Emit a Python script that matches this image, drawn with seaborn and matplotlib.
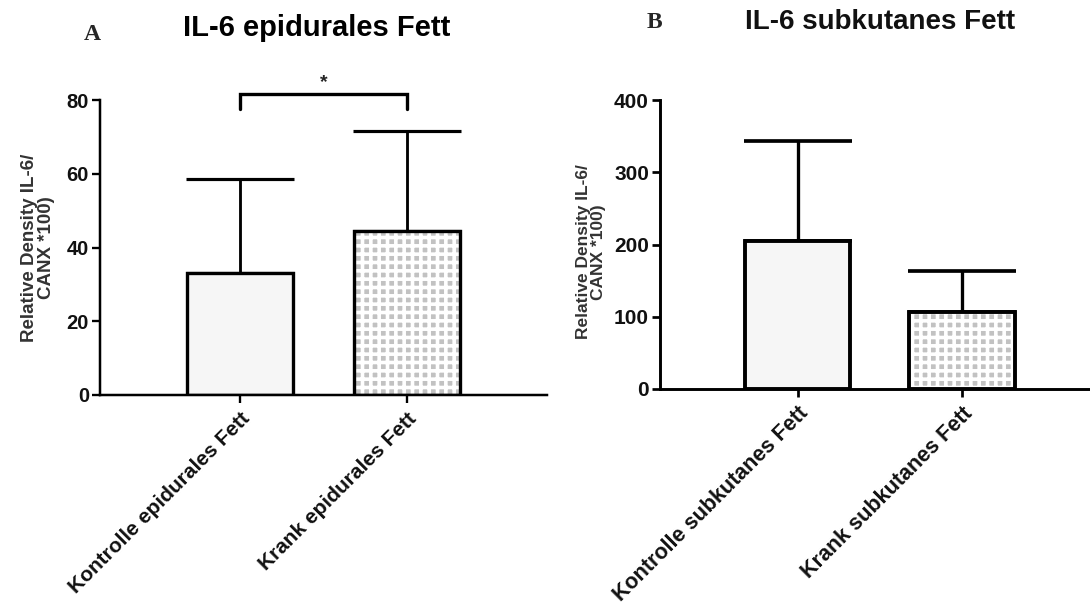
import matplotlib
matplotlib.use("Agg")
import matplotlib.pyplot as plt
import seaborn as sns
import pandas as pd
import numpy as np

sns.set_theme(style="ticks")
plt.rcParams['font.family'] = ['Liberation Sans', 'DejaVu Sans']
plt.rcParams['font.weight'] = 'bold'
plt.rcParams['hatch.linewidth'] = 2.6

# ---- data ----
cats_a = ["Kontrolle epidurales Fett", "Krank epidurales Fett"]
mean_a = [33, 44.5]
sd_a = [25.5, 27]
cats_b = ["Kontrolle subkutanes Fett", "Krank subkutanes Fett"]
mean_b = [205, 106]
sd_b = [138, 58]
title_a = "IL-6 epidurales Fett"
title_b = "IL-6 subkutanes Fett"
ylabel = "Relative Density IL-6/\nCANX *100)"
yticks_a = [0, 20, 40, 60, 80]
yticks_b = [0, 100, 200, 300, 400]
sig_label = "*"

fig = plt.figure(figsize=(10.9, 6.06), dpi=100)
axA = fig.add_axes([100/1090, 1-395/606, 447/1090, 295/606])
axB = fig.add_axes([660/1090, 1-389/606, 430/1090, 289/606])

def panel(ax, cats, means, sds, yticks, lw, tick_fs, xl_fs, yl_fs, ylab_x, ylab_y):
    df = pd.DataFrame({"g": cats, "v": means})
    # fill layer
    sns.barplot(data=df, x="g", y="v", hue="g",
                palette={cats[0]: "#f6f6f6", cats[1]: "#c2c2c2"},
                width=0.64, linewidth=0, edgecolor="white", legend=False,
                ax=ax, zorder=1)
    ax.patches[1].set_hatch("++")
    # outline layer
    sns.barplot(data=df, x="g", y="v", fill=False, color="black",
                width=0.64, linewidth=lw, edgecolor="black", ax=ax, zorder=2,
                err_kws={"linewidth": 0})
    xs = np.arange(len(cats))
    ax.errorbar(xs, means, yerr=[np.zeros(len(sds)), sds], fmt="none",
                ecolor="black", elinewidth=lw*0.85, capsize=39,
                capthick=lw*0.95, zorder=0)
    ax.set_ylim(yticks[0], yticks[-1])
    ax.set_yticks(yticks)
    ax.set_yticklabels([str(t) for t in yticks], fontsize=tick_fs,
                       fontweight="bold", color="#111111")
    ax.set_xticks(xs)
    ax.set_xticklabels(cats, rotation=45, ha="right", rotation_mode="anchor",
                       fontsize=xl_fs, fontweight="bold", color="#111111")
    ax.set_xlabel("")
    ax.set_ylabel(ylabel, fontsize=yl_fs, fontweight="bold", color="#333333",
                  linespacing=1.05)
    ax.yaxis.set_label_coords(ylab_x, ylab_y)
    for s in ["top", "right"]:
        ax.spines[s].set_visible(False)
    for s in ["left", "bottom"]:
        ax.spines[s].set_linewidth(lw*0.75)
        ax.spines[s].set_color("black")
    ax.tick_params(axis="y", length=6, width=lw*0.7, pad=2, color="black")
    ax.tick_params(axis="x", length=6, width=lw*0.7, pad=4, color="black")
    ax.set_facecolor("white")

panel(axA, cats_a, mean_a, sd_a, yticks_a, 2.4, 14.5, 15, 13.5, -0.1, 0.5)
axA.set_xlim(-0.84, 1.84)
panel(axB, cats_b, mean_b, sd_b, yticks_b, 2.8, 15, 15.5, 12.5, -0.125, 0.474)
axB.set_xlim(-0.84, 1.78)

# significance bracket (panel A)
axA.plot([0, 0, 1, 1], [77.5, 81.5, 81.5, 77.5], color="black", lw=2.4,
         clip_on=False, solid_joinstyle="miter")
axA.text(0.5, 82.5, sig_label, ha="center", va="bottom", fontsize=14,
         fontweight="bold", color="#222222", clip_on=False)

# titles and panel letters
fig.text(317/1090, 1-28/606, title_a, ha="center", va="center", fontsize=21,
         fontweight="bold", color="black")
fig.text(880/1090, 1-22/606, title_b, ha="center", va="center", fontsize=20,
         fontweight="bold", color="#111111")
fig.text(92/1090, 1-34/606, "A", ha="center", va="center", fontsize=17,
         fontweight="bold", family="Liberation Serif")
fig.text(654/1090, 1-22/606, "B", ha="center", va="center", fontsize=17,
         fontweight="bold", family="Liberation Serif")

fig.savefig("out.png", dpi=100, facecolor="white")
